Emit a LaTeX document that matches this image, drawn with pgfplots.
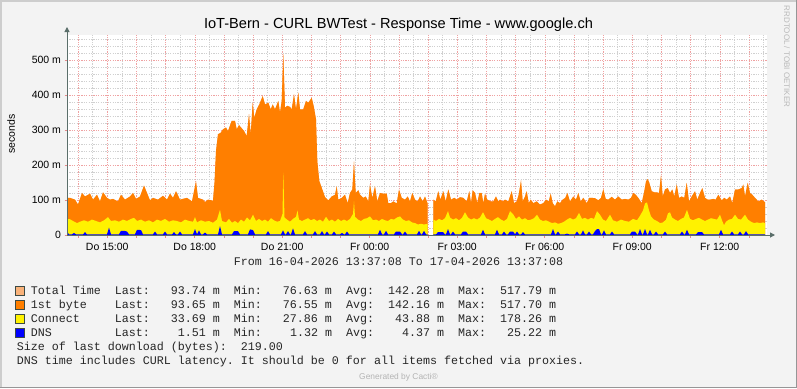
\documentclass[border=0pt]{standalone}
\usepackage{pgfplots}
\pgfplotsset{compat=1.18}
\usepackage{pgfplotstable}
\usepackage{fontspec}
\setmainfont{Liberation Sans}
\setmonofont{Liberation Mono}
\usetikzlibrary{arrows.meta}
\definecolor{bgcol}{HTML}{F3F3F3}
\definecolor{totalcol}{HTML}{F9B27A}
\definecolor{firstcol}{HTML}{FF7F00}
\definecolor{conncol}{HTML}{FFF200}
\definecolor{dnscol}{HTML}{0000FF}
\definecolor{axcol}{HTML}{5A6E6A}
\definecolor{mgridcol}{HTML}{EFA2A2}
\definecolor{mtickcol}{HTML}{E58A8A}
\definecolor{gridcol}{HTML}{D0D0D0}
\definecolor{swborder}{HTML}{3C4A44}
\definecolor{shadea}{HTML}{CDCDCD}
\definecolor{shadeb}{HTML}{969696}
\definecolor{faint}{HTML}{B9B9B9}
\definecolor{faintb}{HTML}{B4B4B4}
\definecolor{legtext}{HTML}{262626}
\frenchspacing

% x = image pixel column (67 = 16-04 13:37:08, 767 = 17-04 13:37:08), y = milliseconds
\pgfplotstableread{
x total first
67 106.1 106
70 106.1 106
75 101.1 101
78 87.1 87
82 120.1 120
85 110.1 110
90 118.1 118
93 101.1 101
97 115.1 115
100 96.1 96
103 122.1 122
107 106.1 106
110 101.1 101
113 103.1 103
118 96.1 96
121 115.1 115
125 101.1 101
130 110.1 110
133 120.1 120
136 103.1 103
140 110.1 110
144 141.1 141
147 120.1 120
150 99.1 99
153 106.1 106
158 101.1 101
163 112.1 112
167 101.1 101
170 118.1 118
173 106.1 106
176 125.1 125
180 101.1 101
184 104.1 104
187 106.1 106
192 96.1 96
196 153.1 153
198 106.1 106
203 101.1 101
205 94.1 94
208 101.1 101
213 98.1 98
214.5 150.1 150
216 240.1 240
218 288.1 288
220.7 292.1 292
223 302.1 302
226 307.1 307
228 297.1 297
231.7 326.1 326
235 326.1 326
236.7 302.1 302
239 314.1 314
241.7 305.1 305
244 297.1 297
246.7 283.1 283
249 345.1 345
250.7 288.1 288
252.7 378.1 378
254.3 335.1 335
256.7 359.1 359
259.3 373.1 373
262.7 397.1 397
265 373.1 373
268.3 378.1 378
270.7 359.1 359
272.7 373.1 373
275 359.1 359
278.3 383.1 383
280 350.1 350
281.7 383.1 383
283.3 517.79 517.70
285 364.1 364
287.3 369.1 369
290 366.1 366
291.7 359.1 359
294 402.1 402
296 359.1 359
298.3 407.1 407
300 359.1 359
303.3 359.1 359
306 383.1 383
308.3 378.1 378
311.7 392.1 392
314 364.1 364
316 330.1 330
317.3 211.1 211
319.3 154.1 154
321.7 135.1 135
325 108.1 108
328.3 99.1 99
331.7 110.1 110
335 115.1 115
336.7 139.1 139
338.3 101.1 101
341.7 106.1 106
345 115.1 115
347.7 91.1 91
350 120.1 120
352.3 130.1 130
354 210.1 210
355.7 120.1 120
358.3 128.1 128
360 115.1 115
363.3 106.1 106
365.7 110.1 110
368.3 96.1 96
370 144.1 144
372.3 106.1 106
375 139.1 139
377.3 96.1 96
380 120.1 120
383.3 118.1 118
386.7 118.1 118
388.3 91.1 91
391 91.1 91
393.3 96.1 96
396.7 90.1 90
399 130.1 130
401.7 106.1 106
405 101.1 101
407.7 110.1 110
410 96.1 96
412.3 120.1 120
415 101.1 101
417.7 96.1 96
420 110.1 110
422.7 96.1 96
425 110.1 110
427.5 91.1 91
433.3 101.1 101
435.7 96.1 96
438.3 125.1 125
440.3 101.1 101
443.3 125.1 125
445.7 96.1 96
448.3 130.1 130
451 101.1 101
454.3 106.1 106
457 101.1 101
460 108.1 108
463.3 106.1 106
466.7 96.1 96
469.3 125.1 125
471 91.1 91
472.7 128.1 128
475 120.1 120
477.3 91.1 91
479.3 120.1 120
481.7 120.1 120
483.3 91.1 91
485 118.1 118
487.3 101.1 101
490.7 96.1 96
493.3 96.1 96
496 110.1 110
498.3 96.1 96
500 101.1 101
502.7 96.1 96
505 101.1 101
508.3 96.1 96
511.7 125.1 125
514 91.1 91
516.7 96.1 96
518.7 115.1 115
521 156.1 156
522.7 96.1 96
525 110.1 110
526.7 125.1 125
528.7 91.1 91
530.7 101.1 101
533.3 91.1 91
536.7 96.1 96
540 87.1 87
543.3 91.1 91
546 101.1 101
548.7 96.1 96
550.7 118.1 118
552.7 91.1 91
555 82.1 82
557.3 96.1 96
560 91.1 91
562.7 101.1 101
565.3 106.1 106
567.3 120.1 120
570 96.1 96
573.3 110.1 110
576 101.1 101
578.3 120.1 120
580.7 96.1 96
583.3 106.1 106
586.7 91.1 91
589.3 106.1 106
592 106.1 106
595 105.1 105
598.3 99.1 99
601 106.1 106
603.3 131.1 131
605.7 103.1 103
608.3 101.1 101
611.7 109.1 109
615 101.1 101
618.3 110.1 110
621.7 101.1 101
625 103.1 103
628.3 101.1 101
631 106.1 106
633.3 120.1 120
635.7 115.1 115
638.3 106.1 106
641.7 91.1 91
644.3 125.1 125
646 153.1 153
647.7 160.1 160
649.3 149.1 149
651.7 125.1 125
654.3 122.1 122
656.7 122.1 122
659 120.1 120
661 170.1 170
662.7 110.1 110
665 130.1 130
667.7 134.1 134
670 120.1 120
672.3 130.1 130
674.3 110.1 110
676.7 144.1 144
679 106.1 106
681.7 110.1 110
684.3 106.1 106
686.7 149.1 149
689 96.1 96
691.7 110.1 110
695 125.1 125
697.3 101.1 101
700 120.1 120
702.3 134.1 134
705 106.1 106
707.7 101.1 101
710 101.1 101
713.3 103.1 103
715.7 101.1 101
718.3 115.1 115
721.7 99.1 99
724.3 106.1 106
726.7 101.1 101
730 110.1 110
732.3 91.1 91
735 130.1 130
738.3 130.1 130
741.7 134.1 134
743.3 144.1 144
745 110.1 110
747.7 149.1 149
750 120.1 120
752.3 115.1 115
755 106.1 106
758.3 96.1 96
761.7 101.1 101
765 93.74 93.65
}\resp

\pgfplotstableread{
x conn
67 46
70 45
73 40
77 34
80 38
84 42
88 38
92 44
96 40
100 36
104 42
108 51
111 40
115 42
119 38
123 44
127 40
131 46
134 49
137 40
141 44
145 38
149 42
153 36
157 44
161 40
165 46
169 38
173 42
177 40
181 36
185 44
189 40
193 38
195 51
197 36
201 42
205 38
209 40
213 35
217 44
220 72
222 40
226 36
229 46
232 35
235 40
238 34
241 44
244 38
247 50
250 42
253 58
256 40
259 46
262 40
265 44
268 38
271 48
274 42
277 38
280 40
282.5 60
283.3 178.26
284.5 50
287 44
290 38
293 46
296 52
297.5 70
299 44
302 40
305 44
308 48
311 42
314 46
317 40
320 44
323 38
326 52
329 40
332 44
335 38
338 46
341 40
344 44
347 40
350 46
353 60
354 96
355 52
358 44
361 40
364 46
367 48
370 53
373 42
376 44
379 40
382 46
385 42
388 40
391 46
394 44
397 50
400 53
403 44
406 40
409 42
412 36
415 34
418 30
421 32
424 30
427.5 32
433.3 44
436 40
439 46
442 42
445 48
448 68
450 50
453 44
456 48
459 42
462 49
465 65
468 50
471 44
474 48
477 44
480 50
483 65
486 48
489 44
492 40
495 46
498 51
501 44
504 40
507 46
510 68
513 60
516 46
519 53
522 44
525 48
528 42
531 44
534 48
537 58
540 44
543 40
546 42
549 38
552 34
555 36
558 32
561 34
564 38
567 44
570 49
573 44
576 48
579 63
582 46
585 49
588 44
591 49
594 46
597 68
600 58
603 44
606 40
610 58
613 42
617 38
621 44
625 40
629 38
633 46
637 42
640 55
643 70
645 90
647 93
649 70
651 53
654 44
657 40
660 34
663 36
666 44
668 62
670 65
672 50
675 44
678 40
681 46
684 50
687 72
690 46
693 42
696 46
699 49
702 44
705 40
708 44
711 48
714 46
717 44
720 58
722 42
724 28
726 38
729 44
732 46
735 58
738 46
741 44
745 58
748 44
751 38
754 34
757 36
760 34
763 36
765 33.69
}\conn

\pgfplotstableread{
x dns
67 10
69 2
72 2
74 6
76 2
83 2
85 8
87 2
107 2
109 21
111 2
119 2
121 12
124 12
127 10
129 2
135 2
137 15
141 14
143 2
153 2
155 10
157 2
163 2
165 10
167 2
172 2
174 8
176 2
178 2
180 10
182 2
193 2
195 17
197 2
199 13
201 2
203 2
205 7
207 2
218 2
220 25.22
222 2
232 2
234 11
238 11
240 2
248 2
250 16
253 14
255 2
266 2
268 11
270 2
281 2
283 13
285 2
286 2
288 11
290 2
291 2
293 19
295 2
303 2
305 11
307 2
313 2
315 11
317 2
320 2
322 11
324 2
325 2
327 10
329 2
332 2
334 10
336 2
340 2
342 6
344 2
345 2
347 10
349 2
378 2
380 15
382 2
384 2
386 12
388 2
394 2
396 10
398 10
400 10
402 2
403 2
405 10
407 2
417 2
419 12
421 2
422 2
424 12
426 2
427.5 2
433.3 2
436 2
438 8
441 8
443 8
445 2
446 2
448 17
450 2
451 2
453 10
455 2
461 2
463 10
466 10
468 2
481 2
483 15
485 2
495 2
497 15
499 2
502 2
504 10
506 2
508 2
510 10
513 10
515 2
517 10
519 2
521 2
523 8
525 2
551 2
553 17
555 2
556 2
558 10
560 2
565 2
567 4
569 2
575 2
577 10
579 2
581 2
583 13
585 2
587 2
589 10
591 2
593 2
595 11
597 17
599 17
601 2
602 2
604 13
606 2
610 2
612 10
614 2
630 2
632 10
635 10
637 2
638 2
640 17
642 2
643 2
645 17
647 2
648 2
650 15
652 2
654 2
656 10
658 2
663 2
665 10
667 2
680 2
682 10
684 2
685 2
687 15
689 2
696 2
698 8
702 8
704 2
719 2
721 15
723 2
730 2
732 10
734 2
738 2
740 10
742 2
744 2
746 11
748 2
765 1.51
}\dns

\begin{document}
\begin{tikzpicture}
\useasboundingbox (0,0) rectangle (797pt,-388pt);
\fill[bgcol] (0,0) rectangle (797pt,-388pt);
\draw[line width=1.5pt, shadea] (0.75pt,-388pt) -- (0.75pt,-0.75pt) -- (797pt,-0.75pt);
\draw[line width=1.5pt, shadeb] (0,-387.25pt) -- (796.25pt,-387.25pt) -- (796.25pt,0);

\begin{axis}[
  name=ax,
  at={(67pt,-235pt)}, anchor=south west,
  width=700pt, height=200pt, scale only axis,
  xmin=67, xmax=767, ymin=0, ymax=571.43,
  axis line style={draw=none},
  axis background/.style={fill=white},
  tick pos=left, tick align=outside,
  major tick length=2.5pt, minor tick length=0pt,
  major tick style={mtickcol, line width=0.8pt},
  xtick={78.11,107.28,136.44,165.61,194.78,223.94,253.11,282.28,311.44,340.61,369.78,398.94,428.11,457.28,486.44,515.61,544.78,573.94,603.11,632.28,661.44,690.61,719.78,748.94},
  xticklabels={,Do 15:00,,,Do 18:00,,,Do 21:00,,,Fr 00:00,,,Fr 03:00,,,Fr 06:00,,,Fr 09:00,,,Fr 12:00,},
  minor xtick={92.69,121.86,151.03,180.19,209.36,238.53,267.69,296.86,326.03,355.19,384.36,413.53,442.69,471.86,501.03,530.19,559.36,588.53,617.69,646.86,676.03,705.19,734.36,763.53},
  ytick={0,100,200,300,400,500},
  yticklabels={0,100 m,200 m,300 m,400 m,500 m},
  minor ytick={20,40,60,80,120,140,160,180,220,240,260,280,320,340,360,380,420,440,460,480,520,540,560},
  grid=both,
  major grid style={draw=mgridcol, line width=0.5pt, dash pattern=on 1.2pt off 1.2pt},
  minor grid style={draw=gridcol, line width=0.5pt, dash pattern=on 1.2pt off 1.2pt},
  tick label style={font=\fontsize{10.5}{12}\selectfont, text=black},
  xticklabel style={yshift=-2pt},
]
\addplot[fill=totalcol, draw=none, restrict x to domain=0:428] table[x=x, y=total] {\resp} \closedcycle;
\addplot[fill=totalcol, draw=none, restrict x to domain=433:800] table[x=x, y=total] {\resp} \closedcycle;
\addplot[fill=firstcol, draw=none, restrict x to domain=0:428] table[x=x, y=first] {\resp} \closedcycle;
\addplot[fill=firstcol, draw=none, restrict x to domain=433:800] table[x=x, y=first] {\resp} \closedcycle;
\addplot[fill=conncol, draw=none, restrict x to domain=0:428] table[x=x, y=conn] {\conn} \closedcycle;
\addplot[fill=conncol, draw=none, restrict x to domain=433:800] table[x=x, y=conn] {\conn} \closedcycle;
\addplot[fill=dnscol, draw=none, restrict x to domain=0:428] table[x=x, y=dns] {\dns} \closedcycle;
\addplot[fill=dnscol, draw=none, restrict x to domain=433:800] table[x=x, y=dns] {\dns} \closedcycle;
\end{axis}

% axis lines with arrows
\draw[axcol, line width=1pt, -{Triangle[length=5pt,width=5pt]}] (67pt,-235pt) -- (67pt,-27pt);
\draw[axcol, line width=1pt, -{Triangle[length=5pt,width=5pt]}] (67pt,-235pt) -- (775pt,-235pt);

% titles
\node[anchor=base, inner sep=0pt] at (398.5pt,-28.3pt) {\fontsize{14.6}{16}\selectfont IoT-Bern - CURL BWTest - Response Time - www.google.ch};
\node[rotate=90, inner sep=0pt] at (11pt,-134pt) {\fontsize{10.5}{12}\selectfont seconds};
\node[rotate=-90, inner sep=0pt, text=faint] at (787pt,-56.5pt) {\fontsize{8}{9}\selectfont RRDTOOL / TOBI OETIKER};

% legend
\begin{scope}[every node/.style={inner sep=0pt, anchor=base west, text=legtext, font=\ttfamily\fontsize{11.67}{13}\selectfont}]
\node[anchor=base] at (398.5pt,-265.6pt) {From~16-04-2026~13:37:08~To~17-04-2026~13:37:08};
\draw[swborder, line width=0.8pt, fill=totalcol] (15.5pt,-286.2pt) rectangle (24.5pt,-295.2pt);
\draw[swborder, line width=0.8pt, fill=firstcol] (15.5pt,-300.2pt) rectangle (24.5pt,-309.2pt);
\draw[swborder, line width=0.8pt, fill=conncol] (15.5pt,-314.2pt) rectangle (24.5pt,-323.2pt);
\draw[swborder, line width=0.8pt, fill=dnscol] (15.5pt,-328.2pt) rectangle (24.5pt,-337.2pt);
\node at (30.7pt,-294pt) {Total~Time~~Last:~~~93.74~m~~Min:~~~76.63~m~~Avg:~~142.28~m~~Max:~~517.79~m};
\node at (30.7pt,-308pt) {1st~byte~~~~Last:~~~93.65~m~~Min:~~~76.55~m~~Avg:~~142.16~m~~Max:~~517.70~m};
\node at (30.7pt,-322pt) {Connect~~~~~Last:~~~33.69~m~~Min:~~~27.86~m~~Avg:~~~43.88~m~~Max:~~178.26~m};
\node at (30.7pt,-336pt) {DNS~~~~~~~~~Last:~~~~1.51~m~~Min:~~~~1.32~m~~Avg:~~~~4.37~m~~Max:~~~25.22~m};
\node at (16.7pt,-350pt) {Size~of~last~download~(bytes):~~219.00};
\node at (16.7pt,-364pt) {DNS~time~includes~CURL~latency.~It~should~be~0~for~all~items~fetched~via~proxies.};
\end{scope}
\node[inner sep=0pt, text=faintb] at (398.5pt,-377pt) {\fontsize{8.4}{9}\selectfont Generated by Cacti®};
\end{tikzpicture}
\end{document}
